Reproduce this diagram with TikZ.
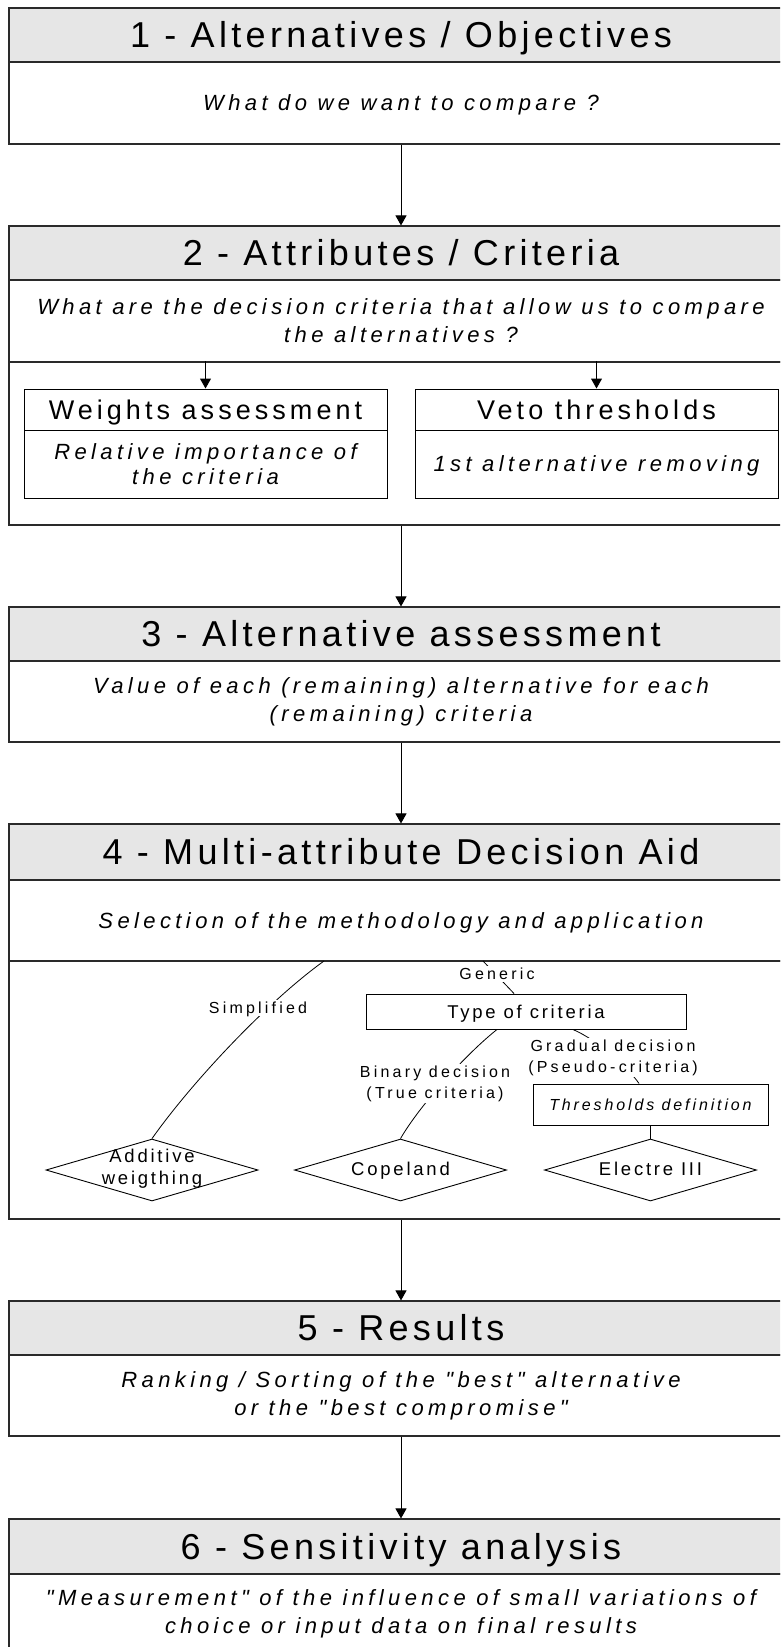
\documentclass[tikz,border=0pt]{standalone}
\usepackage{fontspec}
\setmainfont{Liberation Sans}
\newfontfamily\ttlfont[LetterSpace=12]{Liberation Sans}
\newfontfamily\subfont[LetterSpace=15]{Liberation Sans}
\newfontfamily\bodyfont[LetterSpace=20]{Liberation Sans}
\newfontfamily\labfont[LetterSpace=20]{Liberation Sans}
\newfontfamily\diafont[LetterSpace=15]{Liberation Sans}
\newfontfamily\thrfont[LetterSpace=18]{Liberation Sans}
\usetikzlibrary{shapes.geometric,arrows.meta}
\definecolor{hdrgray}{HTML}{E6E6E6}
\definecolor{edgecol}{HTML}{2A2A2A}
\begin{document}
\begin{tikzpicture}[x=1pt,y=-1pt,
  frame/.style={draw=edgecol,line width=1.1pt,rectangle,inner sep=0pt,minimum width=784},
  hdr/.style={frame,fill=hdrgray,font=\ttlfont\fontsize{36}{43}\selectfont,text height=25.8pt,text depth=0pt},
  bodytxt/.style={frame,font=\bodyfont\itshape\fontsize{22}{28}\selectfont,align=center},
  one/.style={text height=15.8pt,text depth=0pt},
  subhdr/.style={draw=black,line width=1pt,rectangle,inner sep=0pt,minimum width=363,minimum height=41,font=\subfont\fontsize{27}{32}\selectfont,text height=19.5pt,text depth=0pt},
  subbody/.style={draw=black,line width=1pt,rectangle,inner sep=0pt,minimum width=363,minimum height=68,font=\bodyfont\itshape\fontsize{22}{25}\selectfont,align=center},
  arr/.style={draw=black,line width=1pt,-{Triangle[width=11pt,length=10pt]}},
  conn/.style={draw=black,line width=0.8pt},
  lab/.style={font=\labfont\fontsize{16}{21}\selectfont,fill=white,inner sep=2pt,align=center},
  dia/.style={diamond,draw=black,line width=0.9pt,inner sep=0pt,minimum width=212,minimum height=62},
  diatxt/.style={font=\diafont\fontsize{18.5}{22}\selectfont,align=center,inner sep=0pt},
  critbox/.style={draw=black,line width=1pt,rectangle,inner sep=0pt,font=\diafont\fontsize{18.5}{22}\selectfont,text height=13.3pt,text depth=0pt},
  thrbox/.style={draw=black,line width=1pt,rectangle,inner sep=0pt,font=\thrfont\itshape\fontsize{16}{20}\selectfont,text height=11.5pt,text depth=0pt}
]
\useasboundingbox (0,0) rectangle (780,1647);
\fill[white] (0,0) rectangle (780,1647);
\clip (0,0) rectangle (780,1647);

% Box 1
\node[hdr,minimum height=54] (h1) at (401,35) {1 - Alternatives / Objectives};
\node[bodytxt,one,minimum height=82] (b1) at (401,103) {What do we want to compare ?};

% Box 2
\node[hdr,minimum height=54] (h2) at (401,253) {2 - Attributes / Criteria};
\node[bodytxt,minimum height=82] (b2) at (401,321) {What are the decision criteria that allow us to compare\\the alternatives ?};
\node[frame,minimum height=163] (l2) at (401,443.5) {};
\node[subhdr] (wh) at (205.5,409.5) {Weights assessment};
\node[subbody] (wb) at (205.5,464) {Relative importance of\\the criteria};
\node[subhdr] (vh) at (596.5,409.5) {Veto thresholds};
\node[subbody,one] (vb) at (596.5,464) {1st alternative removing};

% Box 3
\node[hdr,minimum height=54] (h3) at (401,634) {3 - Alternative assessment};
\node[bodytxt,minimum height=81] (b3) at (401,701.5) {Value of each (remaining) alternative for each\\(remaining) criteria};

% Box 4
\node[hdr,minimum height=56] (h4) at (401,852) {4 - Multi-attribute Decision Aid};
\node[bodytxt,one,minimum height=81] (b4) at (401,920.5) {Selection of the methodology and application};
\node[frame,minimum height=258] (l4) at (401,1090) {};

% Box 5
\node[hdr,minimum height=54] (h5) at (401,1328) {5 - Results};
\node[bodytxt,minimum height=81] (b5) at (401,1395.5) {Ranking / Sorting of the "best" alternative\\or the "best compromise"};

% Box 6
\node[hdr,minimum height=55] (h6) at (401,1546.5) {6 - Sensitivity analysis};
\node[bodytxt,minimum height=80] (b6) at (401,1614) {"Measurement" of the influence of small variations of\\choice or input data on final results};

% main arrows
\draw[arr] (b1.south) -- (h2.north);
\draw[arr] (l2.south) -- (h3.north);
\draw[arr] (b3.south) -- (h4.north);
\draw[arr] (l4.south) -- (h5.north);
\draw[arr] (b5.south) -- (h6.north);
\draw[arr] (wh.north |- l2.north) -- (wh.north);
\draw[arr] (vh.north |- l2.north) -- (vh.north);

% section 4 internals
\node[critbox,minimum width=320,minimum height=35] (crit) at (526,1011.5) {Type of criteria};
\node[thrbox,minimum width=235,minimum height=41] (thr) at (650.5,1104.5) {Thresholds definition};
\node[dia] (add) at (152,1170) {};
\node[diatxt] (addt) at (152,1169) {Additive\\weigthing};
\node[dia] (cope) at (400.5,1170) {};
\node[diatxt,text height=13.3pt,text depth=0pt] (copet) at (400.5,1169) {Copeland};
\node[dia] (elec) at (650.5,1170) {};
\node[diatxt,text height=13.3pt,text depth=0pt] (elect) at (650.5,1169) {Electre III};

\coordinate (simpTop) at (324,961);
\coordinate (genTop) at (483,961);
\draw[conn] (add.north) .. controls (192,1082) and (267,1002) .. (simpTop);
\node[lab,text height=11.5pt,text depth=0pt] (simp) at (258,1008) {Simplified};
\draw[conn] (genTop) -- ([xshift=-12pt]crit.north);
\node[lab,text height=11.5pt,text depth=0pt] (gen) at (497,974) {Generic};
\draw[conn] ([xshift=-29pt]crit.south) .. controls (466,1054) and (420,1105) .. (cope.north);
\node[lab] (bin) at (435,1083.5) {Binary decision\\(True criteria)};
\draw[conn] ([xshift=47pt]crit.south) .. controls (598,1040) and (630,1070) .. ([xshift=-11.5pt]thr.north);
\node[lab] (grad) at (613,1057.5) {Gradual decision\\(Pseudo-criteria)};
\draw[conn] (thr.south) -- (elec.north);
\end{tikzpicture}
\end{document}
